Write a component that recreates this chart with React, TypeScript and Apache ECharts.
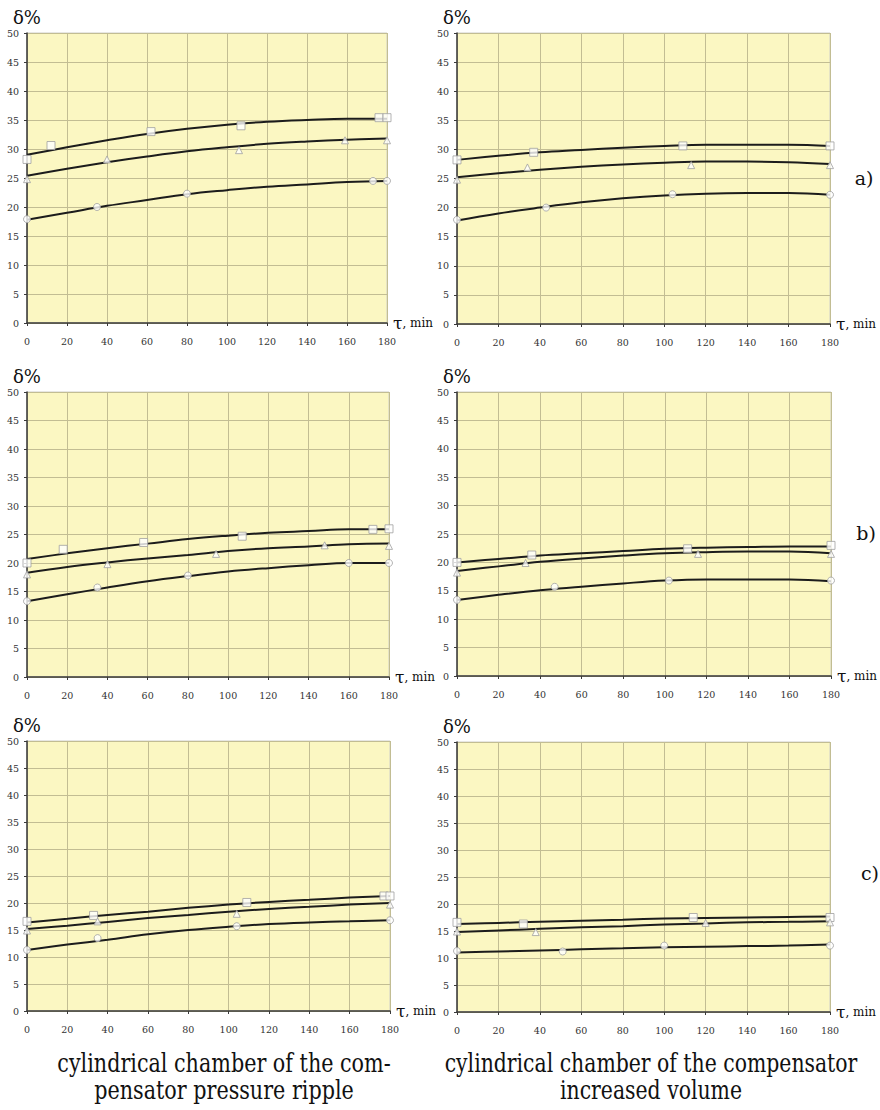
import React, { useEffect, useRef } from "react";
import * as echarts from "echarts";

// x positions at which the fitted curves were read
const curveX = [0, 20, 40, 60, 80, 100, 120, 140, 160, 180];
const xTicks = [0, 20, 40, 60, 80, 100, 120, 140, 160, 180];
const yTicks = [0, 5, 10, 15, 20, 25, 30, 35, 40, 45, 50];

// a) left – cylindrical chamber, pressure ripple
const aL_sqCurve = [29.0, 30.3, 31.5, 32.6, 33.5, 34.2, 34.7, 35.0, 35.2, 35.2];
const aL_triCurve = [25.4, 26.6, 27.7, 28.7, 29.6, 30.3, 30.9, 31.3, 31.6, 31.8];
const aL_circCurve = [17.8, 19.0, 20.2, 21.2, 22.2, 22.9, 23.5, 23.9, 24.3, 24.5];
const aL_sqPts = [[0, 28.2], [12, 30.6], [62, 33.0], [107, 34.0], [176, 35.4], [180, 35.4]];
const aL_triPts = [[0, 24.8], [40, 28.2], [106, 29.8], [159, 31.5], [180, 31.5]];
const aL_circPts = [[0, 17.9], [35, 20.0], [80, 22.3], [173, 24.5], [180, 24.5]];

// a) right – increased volume
const aR_sqCurve = [28.2, 28.9, 29.5, 29.9, 30.3, 30.6, 30.8, 30.8, 30.8, 30.6];
const aR_triCurve = [25.2, 25.9, 26.5, 27.0, 27.4, 27.7, 27.9, 27.9, 27.8, 27.5];
const aR_circCurve = [17.8, 19.0, 20.0, 20.9, 21.6, 22.1, 22.4, 22.5, 22.5, 22.2];
const aR_sqPts = [[0, 28.2], [37, 29.5], [109, 30.6], [180, 30.6]];
const aR_triPts = [[0, 24.8], [34, 26.9], [113, 27.3], [180, 27.3]];
const aR_circPts = [[0, 17.9], [43, 20.0], [104, 22.3], [180, 22.2]];

// b) left
const bL_sqCurve = [20.7, 21.7, 22.6, 23.4, 24.2, 24.8, 25.3, 25.6, 25.9, 25.9];
const bL_triCurve = [18.3, 19.3, 20.1, 20.8, 21.4, 22.1, 22.6, 22.9, 23.3, 23.4];
const bL_circCurve = [13.3, 14.5, 15.7, 16.8, 17.7, 18.5, 19.1, 19.6, 20.0, 20.0];
const bL_sqPts = [[0, 20.0], [18, 22.4], [58, 23.6], [107, 24.7], [172, 25.9], [180, 26.0]];
const bL_triPts = [[0, 18.0], [40, 19.8], [94, 21.6], [148, 23.1], [180, 23.0]];
const bL_circPts = [[0, 13.3], [35, 15.7], [80, 17.8], [160, 20.0], [180, 20.0]];

// b) right
const bR_sqCurve = [20.0, 20.6, 21.2, 21.6, 22.0, 22.4, 22.6, 22.7, 22.8, 22.8];
const bR_triCurve = [18.5, 19.3, 20.1, 20.7, 21.2, 21.6, 21.8, 21.9, 21.9, 21.6];
const bR_circCurve = [13.4, 14.3, 15.1, 15.7, 16.3, 16.8, 17.0, 17.0, 17.0, 16.7];
const bR_sqPts = [[0, 20.0], [36, 21.3], [111, 22.4], [180, 23.0]];
const bR_triPts = [[0, 18.2], [33, 19.9], [116, 21.5], [180, 21.5]];
const bR_circPts = [[0, 13.4], [47, 15.7], [102, 16.8], [180, 16.8]];

// c) left
const cL_sqCurve = [16.4, 17.1, 17.8, 18.4, 19.1, 19.7, 20.2, 20.6, 21.0, 21.3];
const cL_triCurve = [15.2, 15.8, 16.5, 17.2, 17.8, 18.4, 18.9, 19.3, 19.7, 20.0];
const cL_circCurve = [11.3, 12.3, 13.2, 14.2, 15.0, 15.6, 16.1, 16.4, 16.6, 16.8];
const cL_sqPts = [[0, 16.6], [33, 17.7], [109, 20.1], [177, 21.3], [180, 21.3]];
const cL_triPts = [[0, 14.9], [35, 16.6], [104, 18.0], [180, 19.7]];
const cL_circPts = [[0, 11.3], [35, 13.5], [104, 15.7], [180, 16.8]];

// c) right
const cR_sqCurve = [16.3, 16.5, 16.7, 16.9, 17.1, 17.3, 17.4, 17.5, 17.6, 17.7];
const cR_triCurve = [14.8, 15.1, 15.4, 15.7, 15.9, 16.2, 16.4, 16.6, 16.7, 16.8];
const cR_circCurve = [11.0, 11.2, 11.4, 11.6, 11.8, 12.0, 12.1, 12.2, 12.3, 12.5];
const cR_sqPts = [[0, 16.6], [32, 16.3], [114, 17.5], [180, 17.5]];
const cR_triPts = [[0, 14.9], [38, 14.8], [120, 16.5], [180, 16.6]];
const cR_circPts = [[0, 11.3], [51, 11.2], [100, 12.3], [180, 12.3]];

const panelLabels = ["a)", "b)", "c)"];
const captionLeft = ["cylindrical chamber of the com-", "pensator pressure ripple"];
const captionRight = ["cylindrical chamber of the compensator", "increased volume"];
const yName = "δ%";
const xNameSymbol = "τ";
const xNameUnit = ", min";

const PANELS = [
  { curves: [aL_sqCurve, aL_triCurve, aL_circCurve], pts: [aL_sqPts, aL_triPts, aL_circPts] },
  { curves: [aR_sqCurve, aR_triCurve, aR_circCurve], pts: [aR_sqPts, aR_triPts, aR_circPts] },
  { curves: [bL_sqCurve, bL_triCurve, bL_circCurve], pts: [bL_sqPts, bL_triPts, bL_circPts] },
  { curves: [bR_sqCurve, bR_triCurve, bR_circCurve], pts: [bR_sqPts, bR_triPts, bR_circPts] },
  { curves: [cL_sqCurve, cL_triCurve, cL_circCurve], pts: [cL_sqPts, cL_triPts, cL_circPts] },
  { curves: [cR_sqCurve, cR_triCurve, cR_circCurve], pts: [cR_sqPts, cR_triPts, cR_circPts] },
];

const GRIDS = [
  { left: 27, top: 33, width: 360, height: 290 },
  { left: 457, top: 33, width: 373, height: 291 },
  { left: 27, top: 392, width: 362, height: 285 },
  { left: 457, top: 392, width: 374, height: 284 },
  { left: 27, top: 741, width: 363, height: 270 },
  { left: 457, top: 742, width: 373, height: 270 },
];

const SERIF = "DejaVu Serif";
const BG = "#FBF7C2";
const GRIDLINE = "#C2BD93";
const SYMBOLS = ["rect", "triangle", "circle"];
const SYMBOL_SIZES = [8, 7, 7];

function buildOption() {
  const grid: any[] = [];
  const xAxis: any[] = [];
  const yAxis: any[] = [];
  const series: any[] = [];

  GRIDS.forEach((g, i) => {
    grid.push({
      ...g,
      show: true,
      backgroundColor: BG,
      borderColor: "#CFCFC8",
      borderWidth: 1,
      containLabel: false,
    });
    xAxis.push({
      type: "value",
      gridIndex: i,
      min: xTicks[0],
      max: xTicks[xTicks.length - 1],
      interval: xTicks[1] - xTicks[0],
      name: `{t|${xNameSymbol}}{m|${xNameUnit}}`,
      nameLocation: "end",
      nameGap: 6,
      nameTextStyle: {
        fontFamily: SERIF,
        rich: {
          t: { fontFamily: SERIF, fontSize: 17, color: "#111" },
          m: { fontFamily: SERIF, fontSize: 12, color: "#111" },
        },
      },
      axisLine: { show: true, lineStyle: { color: "#3a3a3a", width: 1.5 } },
      axisTick: { show: true, length: 3, lineStyle: { color: "#3a3a3a" } },
      axisLabel: { fontFamily: SERIF, fontSize: 9.5, color: "#333", margin: 13 },
      splitLine: { show: true, lineStyle: { color: GRIDLINE, width: 1 } },
    });
    yAxis.push({
      type: "value",
      gridIndex: i,
      min: yTicks[0],
      max: yTicks[yTicks.length - 1],
      interval: yTicks[1] - yTicks[0],
      name: yName,
      nameLocation: "end",
      nameGap: 7,
      nameTextStyle: { fontFamily: SERIF, fontSize: 18, color: "#111", align: "center" },
      axisLine: { show: true, lineStyle: { color: "#3a3a3a", width: 1.5 } },
      axisTick: { show: true, length: 3, lineStyle: { color: "#3a3a3a" } },
      axisLabel: { fontFamily: SERIF, fontSize: 9.5, color: "#333", margin: 8 },
      splitLine: { show: true, lineStyle: { color: GRIDLINE, width: 1 } },
    });

    const p = PANELS[i];
    p.curves.forEach((c) => {
      series.push({
        type: "line",
        xAxisIndex: i,
        yAxisIndex: i,
        data: curveX.map((x, j) => [x, c[j]]),
        smooth: 0.4,
        symbol: "none",
        showSymbol: false,
        silent: true,
        lineStyle: { color: "#1c1c1c", width: 2 },
        z: 3,
      });
    });
    p.pts.forEach((pts, k) => {
      series.push({
        type: "scatter",
        xAxisIndex: i,
        yAxisIndex: i,
        data: pts,
        symbol: SYMBOLS[k],
        symbolSize: SYMBOL_SIZES[k],
        clip: false,
        silent: true,
        itemStyle: { color: "#FFFFFF", borderColor: "#A0A0A0", borderWidth: 1 },
        z: 4,
      });
    });
  });

  const graphic: any[] = [];
  const labelPos = [
    [864, 178],
    [866, 533],
    [870, 873],
  ];
  panelLabels.forEach((t, i) => {
    graphic.push({
      type: "text",
      x: labelPos[i][0],
      y: labelPos[i][1],
      style: {
        text: t,
        fontFamily: SERIF,
        fontSize: 19,
        fill: "#111",
        align: "center",
        verticalAlign: "middle",
      },
    });
  });
  const capY = [1063, 1090];
  captionLeft.forEach((t, i) => {
    graphic.push({
      type: "text",
      x: 224,
      y: capY[i],
      scaleY: 1.25,
      style: { text: t, fontFamily: SERIF, fontSize: 20.7, fill: "#111", align: "center", verticalAlign: "middle" },
    });
  });
  captionRight.forEach((t, i) => {
    graphic.push({
      type: "text",
      x: 651,
      y: capY[i],
      scaleY: 1.25,
      style: { text: t, fontFamily: SERIF, fontSize: 20.4, fill: "#111", align: "center", verticalAlign: "middle" },
    });
  });

  return {
    animation: false,
    backgroundColor: "#FFFFFF",
    textStyle: { fontFamily: SERIF },
    grid,
    xAxis,
    yAxis,
    series,
    graphic,
  };
}

export default function App() {
  const ref = useRef<HTMLDivElement | null>(null);
  useEffect(() => {
    document.body.style.margin = "0";
    if (!ref.current) return;
    const chart = echarts.init(ref.current, undefined, { renderer: "svg" });
    chart.setOption(buildOption() as any);
    return () => {
      chart.dispose();
    };
  }, []);
  return <div ref={ref} style={{ width: 880, height: 1110 }} />;
}
